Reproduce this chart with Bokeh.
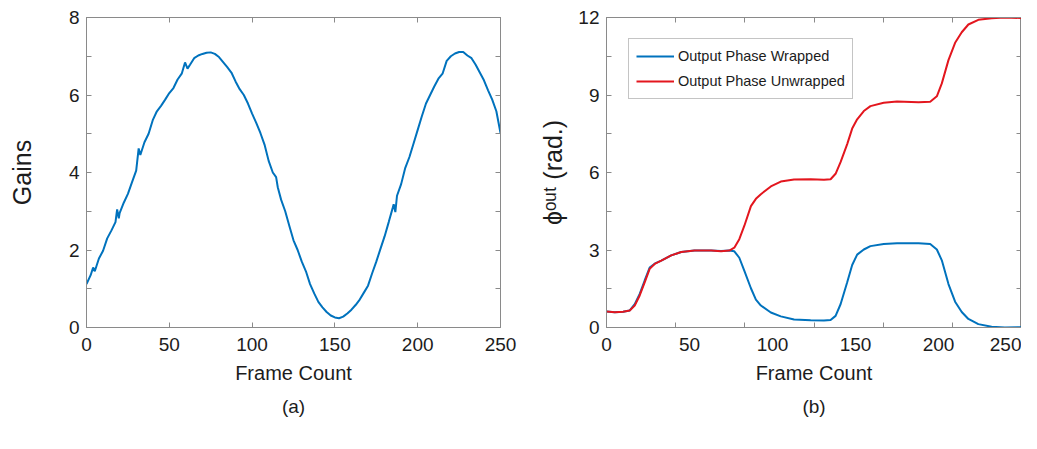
from bokeh.plotting import figure
from bokeh.models import FixedTicker, LinearAxis, Legend, LegendItem, Title
from bokeh.layouts import row
from bokeh.embed import file_html
from bokeh.resources import INLINE

# ---------------- data ----------------
gain_frames = [0, 2.5, 4, 5, 7.5, 10, 12.5, 15, 17.5, 18.5, 19.5, 20, 22.5, 25, 27.5,
               30, 31.5, 32.5, 35, 37.5, 40, 42.5, 45, 47.5, 50, 52.5, 55, 57.5,
               59.5, 61, 62.5, 65, 67.5, 70, 72.5, 75, 77.5, 80, 82.5, 85, 87.5, 90,
               92.5, 95, 97.5, 100, 102.5, 105, 107.5, 110, 112.5, 114.5, 115.5,
               117.5, 120, 122.5, 125, 127.5, 130, 132.5, 135, 137.5, 140, 142.5,
               145, 147.5, 150, 152.5, 155, 157.5, 160, 162.5, 165, 167.5, 170,
               172.5, 175, 177.5, 180, 182.5, 185, 185.5, 186.5, 187.5, 190, 192.5,
               195, 197.5, 200, 202.5, 205, 207.5, 210, 212.5, 215, 217.5, 220,
               222.5, 225, 227.5, 230, 232.5, 235, 237.5, 240, 242.5, 245, 247.5, 250]
gain_values = [1.12, 1.35, 1.55, 1.45, 1.78, 1.98, 2.30, 2.50, 2.72, 3.05, 2.82, 2.95, 3.22, 3.45, 3.75,
               4.05, 4.62, 4.45, 4.78, 5.00, 5.35, 5.58, 5.72, 5.88, 6.05, 6.18, 6.40, 6.55,
               6.84, 6.68, 6.78, 6.95, 7.02, 7.06, 7.09, 7.10, 7.06, 6.98, 6.85, 6.72, 6.58, 6.35,
               6.15, 6.00, 5.78, 5.52, 5.28, 5.02, 4.72, 4.30, 4.00, 3.88, 3.62,
               3.30, 3.00, 2.62, 2.25, 2.00, 1.70, 1.45, 1.12, 0.88, 0.66, 0.52,
               0.40, 0.31, 0.26, 0.24, 0.28, 0.36, 0.46, 0.58, 0.72, 0.90, 1.08,
               1.40, 1.70, 2.03, 2.35, 2.72, 3.10, 3.18, 2.98, 3.40, 3.70, 4.12,
               4.40, 4.75, 5.10, 5.45, 5.78, 6.00, 6.22, 6.42, 6.55, 6.88, 7.00,
               7.07, 7.11, 7.11, 7.02, 6.95, 6.78, 6.58, 6.38, 6.12, 5.88, 5.58, 5.02]

phase_frames = [0, 5, 10, 14, 17, 20, 23, 26, 29, 33, 39, 45, 53, 63, 69, 74, 77, 80, 83,
                87, 90, 93, 99, 105, 113, 123, 131, 135, 138, 141, 145, 148, 151, 155,
                159, 167, 175, 188, 195, 199, 202, 206, 210, 214, 218, 224, 232, 240, 250]
phase_wrapped = [0.62, 0.59, 0.61, 0.66, 0.90, 1.30, 1.82, 2.32, 2.47, 2.59, 2.79, 2.92, 2.98,
                 2.98, 2.96, 2.98, 2.95, 2.70, 2.20, 1.52, 1.08, 0.85, 0.58, 0.43, 0.31, 0.28,
                 0.27, 0.29, 0.45, 0.90, 1.75, 2.42, 2.82, 3.02, 3.15, 3.23, 3.26, 3.26, 3.23,
                 3.02, 2.60, 1.68, 1.00, 0.60, 0.33, 0.13, 0.03, 0.00, 0.01]
phase_unwrapped = [0.62, 0.59, 0.61, 0.66, 0.85, 1.24, 1.75, 2.27, 2.46, 2.59, 2.79, 2.92, 2.98,
                   2.98, 2.95, 2.98, 3.09, 3.42, 3.93, 4.70, 4.98, 5.16, 5.46, 5.65, 5.73, 5.74,
                   5.72, 5.74, 5.95, 6.40, 7.10, 7.70, 8.06, 8.38, 8.57, 8.70, 8.75, 8.72, 8.74,
                   8.95, 9.45, 10.35, 11.02, 11.43, 11.73, 11.91, 11.97, 12.00, 11.98]

frame_ticks = [0, 50, 100, 150, 200, 250]
gain_ticks = [0, 2, 4, 6, 8]
gain_minor = [1, 3, 5, 7]
phase_ticks = [0, 3, 6, 9, 12]
phase_minor = [1.5, 4.5, 7.5, 10.5]
phase_x_marks = [0, 250 / 6, 500 / 6, 125, 1000 / 6, 1250 / 6, 250]
legend_labels = ["Output Phase Wrapped", "Output Phase Unwrapped"]

BLUE = "#0072BD"
RED = "#E3161E"
GREY = "#8a8a8a"
TXT = "#1c1c1c"
FONT = "Liberation Sans"


def make_fig(y_range, frame_width, border_right, y_label, y_label_standoff, caption):
    p = figure(frame_width=frame_width, frame_height=310, x_range=(0, 250), y_range=y_range,
               output_backend="svg", toolbar_location=None,
               min_border_left=86, min_border_right=border_right,
               min_border_top=17, min_border_bottom=104)
    p.xgrid.visible = False
    p.ygrid.visible = False
    p.outline_line_color = GREY
    p.background_fill_color = "white"
    p.border_fill_color = "white"
    for ax in [p.xaxis[0], p.yaxis[0]]:
        ax.axis_line_color = GREY
        ax.major_tick_line_color = GREY
        ax.minor_tick_line_color = GREY
        ax.major_tick_in = 5
        ax.major_tick_out = 0
        ax.minor_tick_in = 5
        ax.minor_tick_out = 0
        ax.major_label_text_font = FONT
        ax.major_label_text_font_size = "19px"
        ax.major_label_text_color = TXT
        ax.axis_label_text_font = FONT
        ax.axis_label_text_font_style = "normal"
        ax.axis_label_text_color = TXT
    p.xaxis[0].major_label_standoff = 10
    p.yaxis[0].major_label_standoff = 7
    p.xaxis[0].axis_label = "Frame Count"
    p.xaxis[0].axis_label_text_font_size = "20px"
    p.xaxis[0].axis_label_standoff = 8
    p.yaxis[0].axis_label = y_label
    p.yaxis[0].axis_label_text_font_size = "25px"
    p.yaxis[0].axis_label_standoff = y_label_standoff
    p.add_layout(Title(text=caption, align="center", text_font=FONT, text_font_size="19px",
                       text_font_style="normal", text_color=TXT, standoff=14), "below")
    return p


def mirror_axes(p, xmarks, ymarks):
    top = LinearAxis(ticker=FixedTicker(ticks=[], minor_ticks=xmarks))
    right = LinearAxis(ticker=FixedTicker(ticks=[], minor_ticks=ymarks))
    for ax in (top, right):
        ax.axis_line_color = GREY
        ax.minor_tick_line_color = GREY
        ax.major_tick_line_color = None
        ax.minor_tick_in = 5
        ax.minor_tick_out = 0
        ax.major_tick_in = 0
        ax.major_tick_out = 0
        ax.major_label_standoff = 0
    p.add_layout(top, "above")
    p.add_layout(right, "right")


# ---------------- (a) Gains ----------------
p1 = make_fig((0, 8), 414, 20, "Gains", 30, "(a)")
p1.xaxis[0].ticker = FixedTicker(ticks=frame_ticks, minor_ticks=[])
p1.yaxis[0].ticker = FixedTicker(ticks=gain_ticks, minor_ticks=gain_minor)
mirror_axes(p1, frame_ticks, gain_ticks + gain_minor)
p1.line(gain_frames, gain_values, line_color=BLUE, line_width=2)

# ---------------- (b) Phase ----------------
p2 = make_fig((0, 12), 415, 0, "ϕᵒᵘᵗ (rad.)", 8, "(b)")
p2.xaxis[0].ticker = FixedTicker(ticks=frame_ticks, minor_ticks=phase_x_marks)
p2.xaxis[0].major_tick_in = 0
p2.yaxis[0].ticker = FixedTicker(ticks=phase_ticks, minor_ticks=phase_minor)
mirror_axes(p2, phase_x_marks, phase_ticks + phase_minor)
r_w = p2.line(phase_frames, phase_wrapped, line_color=BLUE, line_width=2)
r_u = p2.line(phase_frames, phase_unwrapped, line_color=RED, line_width=2)

legend = Legend(items=[LegendItem(label=legend_labels[0], renderers=[r_w]),
                       LegendItem(label=legend_labels[1], renderers=[r_u])],
                location=(22, 228), glyph_width=38, glyph_height=20, label_height=20,
                label_standoff=4, padding=7, spacing=5, margin=0,
                label_text_font=FONT, label_text_font_size="14.5px",
                label_text_color=TXT, border_line_color=GREY, border_line_width=1.5,
                background_fill_color="white", background_fill_alpha=1.0)
p2.add_layout(legend)

layout = row(p1, p2)
open("out.html", "w").write(file_html(layout, INLINE))
